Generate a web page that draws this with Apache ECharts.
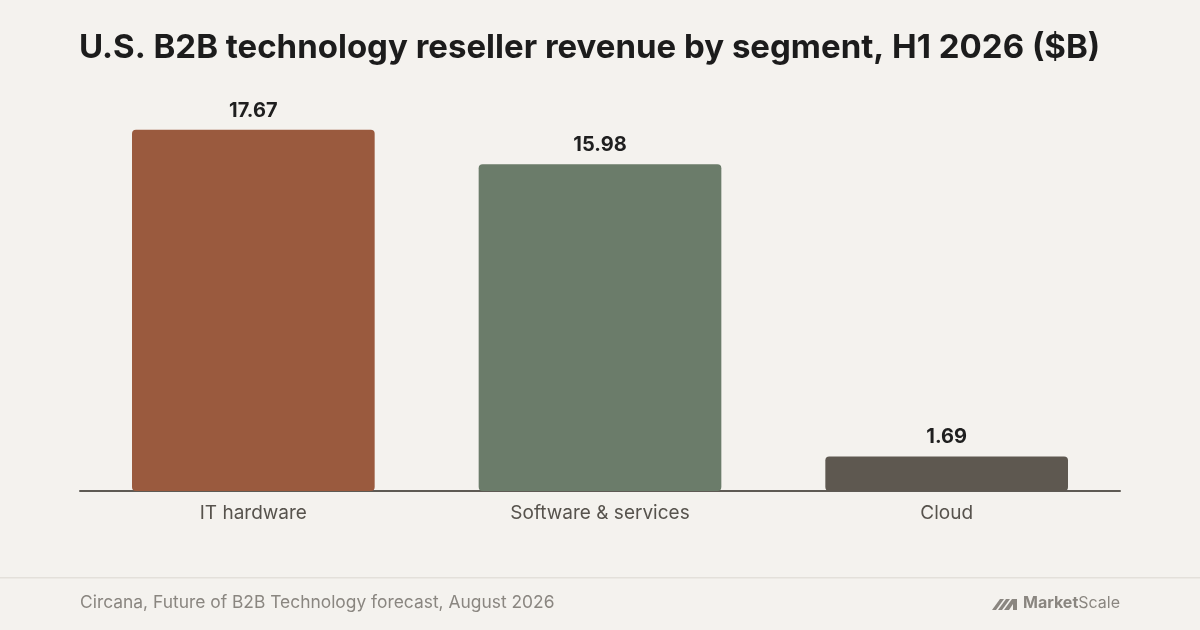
<!DOCTYPE html>
<html>
<head>
<meta charset="utf-8">
<script src="https://cdn.jsdelivr.net/npm/echarts@6/dist/echarts.min.js"></script>
<style>
  html, body { margin: 0; padding: 0; background: #f4f2ee; }
  #chart { width: 1200px; height: 630px; }
</style>
</head>
<body>
<div id="chart"></div>
<script>
// segments and H1 2026 revenue ($B)
const segments = ['IT hardware', 'Software & services', 'Cloud'];
const revenue = [17.67, 15.98, 1.69];
const barColors = ['#9a5a3e', '#6b7c6a', '#5e5850'];

const titleText = 'U.S. B2B technology reseller revenue by segment, H1 2026 ($B)';
const sourceText = 'Circana, Future of B2B Technology forecast, August 2026';

var chart = echarts.init(document.getElementById('chart'));

var option = {
    backgroundColor: '#f4f2ee',
    animation: false,
    title: {
        text: titleText,
        left: 79,
        top: 32,
        padding: 0,
        textStyle: {
            fontFamily: 'Inter',
            fontSize: 33,
            fontWeight: 700,
            color: '#1c1c1c'
        }
    },
    grid: {
        left: 80,
        right: 80,
        top: 82,
        bottom: 139
    },
    xAxis: {
        type: 'category',
        data: segments,
        axisLine: { show: true, lineStyle: { color: '#5e5a54', width: 2 } },
        axisTick: { show: false },
        axisLabel: {
            margin: 13,
            fontFamily: 'Inter',
            fontSize: 19,
            color: '#57534d'
        }
    },
    yAxis: {
        type: 'value',
        min: 0,
        max: 20,
        show: false,
        splitLine: { show: false }
    },
    series: [
        {
            type: 'bar',
            barWidth: '70%',
            data: revenue.map(function (v, i) {
                return { value: v, itemStyle: { color: barColors[i] } };
            }),
            itemStyle: { borderRadius: 4 },
            label: {
                show: true,
                position: 'top',
                distance: 9,
                formatter: function (p) { return p.value.toFixed(2); },
                fontFamily: 'Inter',
                fontSize: 20,
                fontWeight: 700,
                color: '#1f1f1f'
            }
        }
    ],
    graphic: [
        {
            type: 'rect',
            shape: { x: 0, y: 577, width: 1200, height: 1.5 },
            style: { fill: '#e3e0da' }
        },
        {
            type: 'text',
            left: 80,
            top: 594,
            style: {
                text: sourceText,
                fontFamily: 'Inter',
                fontSize: 17.4,
                fill: '#8a8680'
            }
        },
        {
            type: 'polygon',
            shape: { points: [[992, 610], [1000, 599], [1004, 599], [996, 610]] },
            style: { fill: '#8a8680' }
        },
        {
            type: 'polygon',
            shape: { points: [[998, 610], [1006, 599], [1010, 599], [1002, 610]] },
            style: { fill: '#8a8680' }
        },
        {
            type: 'polygon',
            shape: { points: [[1004, 610], [1012, 599], [1017, 599], [1017, 610], [1013, 610], [1013, 604], [1009, 610]] },
            style: { fill: '#8a8680' }
        },
        {
            type: 'text',
            right: 80,
            top: 595,
            style: {
                text: '{b|Market}{r|Scale}',
                rich: {
                    b: { fontFamily: 'Inter', fontSize: 16, fontWeight: 700, fill: '#8a8680' },
                    r: { fontFamily: 'Inter', fontSize: 16, fontWeight: 400, fill: '#8a8680' }
                }
            }
        }
    ]
};

chart.setOption(option);
</script>
</body>
</html>
